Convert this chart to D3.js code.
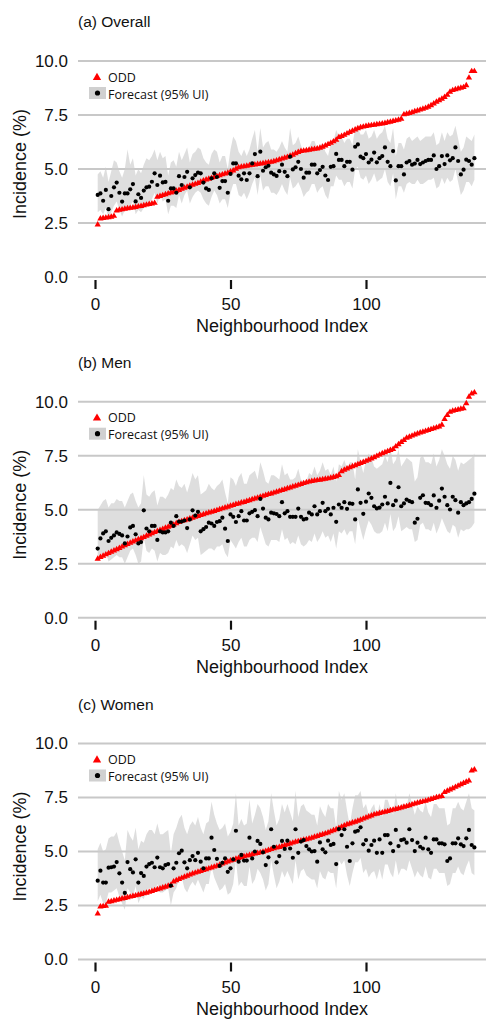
<!DOCTYPE html>
<html>
<head>
<meta charset="utf-8">
<script src="https://cdn.jsdelivr.net/npm/d3@7"></script>
<style>
  body { margin: 0; background: #fff; }
  svg { display: block; }
</style>
</head>
<body>
<div id="chart"></div>
<script>
// neighbourhood index 1..140, values in incidence (%)
var oddA = [2.40,2.68,2.70,2.72,2.74,2.76,2.80,3.05,3.08,3.10,
  3.13,3.15,3.17,3.19,3.21,3.24,3.26,3.29,3.32,3.35,
  3.37,3.40,3.68,3.72,3.76,3.80,3.84,3.88,3.92,3.96,
  4.00,4.05,4.10,4.15,4.20,4.24,4.28,4.32,4.38,4.44,
  4.48,4.52,4.56,4.60,4.64,4.68,4.72,4.76,4.80,4.85,
  4.90,4.98,5.05,5.08,5.10,5.12,5.14,5.16,5.18,5.20,
  5.22,5.24,5.26,5.28,5.30,5.33,5.37,5.41,5.45,5.49,
  5.53,5.58,5.63,5.70,5.76,5.80,5.82,5.84,5.86,5.88,
  5.90,5.92,5.95,6.00,6.06,6.12,6.18,6.25,6.32,6.45,
  6.50,6.55,6.62,6.68,6.74,6.80,6.86,6.90,6.93,6.96,
  6.98,7.00,7.02,7.04,7.06,7.08,7.10,7.13,7.16,7.19,
  7.22,7.25,7.30,7.50,7.53,7.56,7.60,7.64,7.68,7.72,
  7.76,7.80,7.85,7.92,8.00,8.08,8.15,8.22,8.30,8.40,
  8.55,8.62,8.66,8.70,8.73,8.76,8.85,9.20,9.50,9.50];
var fcA = [3.8,3.87,3.53,4.03,3.14,3.75,4.15,4.37,3.9,3.49,
  3.87,3.87,4.06,4.3,3.5,3.83,3.66,4.0,4.15,4.18,
  4.41,4.8,4.26,4.69,4.38,4.4,3.53,4.1,4.1,3.9,
  4.67,4.26,4.63,4.87,4.15,4.57,4.72,4.83,4.8,4.37,
  4.1,4.03,4.57,4.8,4.63,4.13,4.44,4.44,3.9,4.77,
  5.26,5.26,4.69,4.52,4.8,4.49,4.8,5.26,5.69,4.67,
  5.8,4.92,5.08,5.15,4.83,4.75,4.68,4.9,5.2,4.87,
  4.67,5.57,4.98,5.08,5.33,5.0,4.6,4.83,4.83,5.2,
  5.2,4.8,4.95,5.1,4.7,4.49,5.1,5.13,5.7,5.42,
  5.42,5.13,5.33,5.33,4.97,6.03,6.14,5.57,5.5,5.69,
  5.3,5.43,5.76,5.31,5.5,5.6,6.0,5.33,5.13,5.83,
  4.47,5.13,5.13,4.75,5.3,5.37,5.2,5.25,5.42,5.23,
  5.3,5.37,5.42,5.42,5.63,5.0,5.13,5.6,5.23,5.63,
  5.4,5.5,6.0,5.37,4.75,4.97,5.43,5.37,5.2,5.5];
var loA = [3.0,3.1,2.9,3.2,2.7,3.0,3.3,3.5,3.1,2.8,
  3.1,3.1,3.3,3.5,2.9,3.1,3.0,3.2,3.3,3.4,
  3.6,3.9,3.4,3.8,3.5,3.6,2.9,3.3,3.3,3.2,
  3.8,3.4,3.8,4.0,3.4,3.7,3.9,4.0,3.9,3.6,
  3.4,3.3,3.7,4.0,3.8,3.4,3.6,3.6,3.2,3.9,
  4.3,4.3,3.8,3.7,3.9,3.6,3.9,4.3,4.6,3.8,
  4.7,4.0,4.2,4.2,3.9,3.9,3.8,4.0,4.3,4.0,
  3.8,4.6,4.1,4.2,4.4,4.1,3.7,3.9,4.0,4.3,
  4.3,3.9,4.1,4.2,3.8,3.6,4.2,4.2,4.7,4.5,
  4.5,4.2,4.4,4.4,4.1,5.0,5.1,4.6,4.5,4.7,
  4.3,4.5,4.8,4.4,4.5,4.6,5.0,4.4,4.2,4.8,
  3.6,4.2,4.2,3.9,4.3,4.4,4.3,4.3,4.5,4.3,
  4.3,4.4,4.5,4.5,4.6,4.1,4.2,4.6,4.3,4.6,
  4.4,4.5,5.0,4.4,3.8,4.0,4.4,4.4,4.2,4.5];
var hiA = [4.75,4.9,4.6,5.1,4.4,4.9,5.4,5.3,4.9,4.6,
  5.0,5.9,5.2,5.5,4.7,5.0,4.8,5.2,5.5,5.4,
  5.6,5.9,5.4,5.8,5.5,5.6,4.7,5.3,5.4,5.1,
  5.8,5.4,5.7,6.0,5.3,5.7,5.8,6.0,5.9,5.5,
  5.3,5.2,5.7,5.9,5.8,5.3,5.6,5.6,5.0,5.9,
  6.5,6.3,5.8,5.6,5.9,5.6,5.9,6.4,6.8,5.8,
  6.9,6.0,6.2,6.3,5.9,5.9,5.8,6.0,6.3,6.0,
  5.8,6.9,6.1,6.2,6.5,6.1,5.7,5.9,6.0,6.3,
  6.3,5.9,6.1,6.2,5.8,5.6,6.2,6.3,6.8,6.5,
  6.5,6.2,6.4,6.4,6.1,6.9,6.9,6.6,6.6,6.8,
  6.4,6.5,6.8,6.4,6.6,6.7,7.0,6.4,6.2,6.9,
  5.6,6.2,6.2,5.9,6.4,6.5,6.3,6.4,6.5,6.3,
  6.4,6.5,6.5,6.5,6.7,6.1,6.2,6.7,6.3,6.7,
  6.5,6.6,7.0,6.4,5.8,6.0,6.5,6.4,6.3,6.6];

var oddB = [2.70,2.78,2.84,2.90,2.96,3.02,3.08,3.14,3.20,3.26,
  3.32,3.38,3.44,3.50,3.55,3.60,3.65,3.70,3.76,3.82,
  3.88,3.93,3.98,4.03,4.08,4.13,4.18,4.23,4.28,4.34,
  4.40,4.44,4.48,4.52,4.56,4.60,4.64,4.68,4.72,4.76,
  4.80,4.84,4.87,4.91,4.95,4.99,5.03,5.07,5.11,5.15,
  5.19,5.23,5.26,5.30,5.33,5.37,5.41,5.45,5.49,5.53,
  5.57,5.61,5.65,5.69,5.72,5.76,5.80,5.84,5.88,5.92,
  5.96,6.00,6.04,6.08,6.12,6.16,6.20,6.24,6.27,6.30,
  6.32,6.34,6.36,6.38,6.40,6.42,6.45,6.48,6.52,6.58,
  6.75,6.82,6.88,6.93,6.98,7.03,7.08,7.13,7.18,7.23,
  7.28,7.34,7.40,7.46,7.52,7.58,7.63,7.68,7.73,7.78,
  7.90,8.00,8.10,8.20,8.30,8.35,8.40,8.45,8.50,8.54,
  8.58,8.62,8.66,8.70,8.74,8.78,8.82,8.90,9.17,9.35,
  9.50,9.55,9.58,9.61,9.64,9.67,9.90,10.20,10.35,10.40];
var fcB = [3.2,3.67,3.9,4.0,3.55,3.7,3.81,3.95,3.88,3.81,
  3.44,3.76,4.18,4.25,3.86,3.44,3.5,4.97,4.13,4.0,
  4.25,4.25,3.6,4.0,3.95,3.95,4.0,4.4,4.25,4.7,
  4.45,4.45,4.5,4.15,4.55,4.97,4.73,4.9,4.0,4.1,
  4.2,4.4,4.36,4.25,4.43,4.47,4.63,4.12,3.55,4.78,
  4.67,4.43,4.7,4.93,4.5,4.5,4.83,4.9,4.98,4.7,
  5.5,5.05,4.63,4.55,4.86,4.83,4.8,4.7,5.35,4.83,
  4.93,4.67,4.67,4.67,5.05,4.67,4.55,4.58,4.86,4.78,
  5.16,4.78,4.93,5.32,4.93,5.04,4.78,5.09,4.44,5.24,
  5.09,5.35,5.04,5.29,5.27,4.55,5.94,5.32,4.81,5.37,
  5.75,5.55,5.16,5.06,5.1,5.24,5.6,5.29,6.24,5.21,
  5.42,6.04,5.16,5.29,5.47,5.4,5.35,4.4,4.58,5.55,
  5.67,5.32,5.3,5.21,5.66,5.09,5.42,5.98,5.6,5.21,
  5.01,5.6,5.44,4.86,5.35,5.21,5.29,5.35,5.5,5.74];
var loB = [2.6,2.7,2.9,3.0,2.6,2.7,2.8,2.9,2.8,2.8,
  2.5,2.8,3.1,3.2,2.9,2.5,2.6,3.7,3.1,3.0,
  3.2,3.1,2.6,3.0,2.9,2.9,3.0,3.3,3.2,3.6,
  3.3,3.4,3.3,3.0,3.4,3.8,3.6,3.7,2.9,3.0,
  3.1,3.2,3.2,3.1,3.3,3.3,3.4,3.0,2.8,3.6,
  3.4,3.2,3.5,3.7,3.3,3.3,3.6,3.7,3.7,3.5,
  4.2,3.8,3.4,3.3,3.6,3.6,3.6,3.5,4.1,3.6,
  3.7,3.4,3.5,3.4,3.8,3.4,3.3,3.4,3.6,3.5,
  3.9,3.5,3.7,4.0,3.7,3.8,3.5,3.9,3.2,4.0,
  3.9,4.1,3.8,4.0,4.0,3.4,4.6,4.1,3.6,4.1,
  4.5,4.3,4.0,3.9,3.9,4.0,4.4,4.0,4.8,4.0,
  4.2,4.7,4.0,4.1,4.2,4.1,4.1,3.5,3.6,4.3,
  4.4,4.1,4.1,4.0,4.4,3.9,4.2,4.6,4.3,4.0,
  3.9,4.3,4.2,3.7,4.1,4.0,4.1,4.1,4.2,4.4];
var hiB = [5.0,5.2,5.4,5.5,5.1,5.3,5.3,5.5,5.4,5.4,
  5.1,5.4,5.7,5.8,5.4,5.1,5.3,6.6,5.7,5.6,
  5.8,5.9,5.2,5.6,5.6,5.5,5.7,6.0,5.9,6.4,
  6.1,6.0,6.2,5.8,6.2,6.7,6.4,6.6,5.7,5.8,
  5.9,6.2,6.0,5.9,6.1,6.2,6.4,5.8,5.3,6.5,
  6.4,6.1,6.5,6.7,6.2,6.2,6.6,6.7,6.8,6.4,
  7.2,6.8,6.3,6.2,6.6,6.6,6.5,6.4,7.1,6.6,
  6.7,6.4,6.4,6.5,6.9,6.4,6.3,6.3,6.7,6.6,
  7.0,6.6,6.8,7.2,6.8,6.9,6.6,7.0,6.3,7.1,
  7.0,7.3,6.9,7.2,7.2,6.4,7.8,7.2,6.7,7.3,
  7.6,7.4,7.0,6.9,7.0,7.1,7.5,7.2,7.9,7.1,
  7.3,7.8,7.0,7.2,7.4,7.3,7.2,6.3,6.5,7.4,
  7.5,7.2,7.2,7.1,7.6,7.0,7.3,7.8,7.5,7.1,
  6.9,7.5,7.3,6.8,7.2,7.1,7.2,7.3,7.4,7.6];

var oddC = [2.10,2.42,2.44,2.46,2.64,2.67,2.70,2.73,2.76,2.79,
  2.82,2.85,2.88,2.91,2.94,2.97,3.00,3.03,3.06,3.10,
  3.14,3.18,3.22,3.26,3.30,3.34,3.38,3.42,3.58,3.64,
  3.70,3.75,3.80,3.85,3.90,3.95,3.99,4.03,4.07,4.11,
  4.15,4.19,4.23,4.27,4.31,4.36,4.41,4.46,4.51,4.55,
  4.59,4.63,4.67,4.71,4.75,4.78,4.81,4.84,4.87,4.90,
  4.93,4.96,5.00,5.04,5.08,5.12,5.15,5.18,5.22,5.26,
  5.30,5.34,5.38,5.42,5.45,5.48,5.51,5.54,5.57,5.61,
  5.65,5.69,5.73,5.77,5.81,5.85,5.90,5.95,6.00,6.06,
  6.12,6.18,6.23,6.27,6.31,6.35,6.39,6.44,6.49,6.54,
  6.59,6.64,6.69,6.72,6.75,6.78,6.81,6.84,6.88,6.91,
  6.94,6.97,7.00,7.04,7.07,7.11,7.15,7.19,7.23,7.26,
  7.29,7.32,7.36,7.40,7.44,7.48,7.51,7.54,7.72,7.78,
  7.84,7.90,7.96,8.02,8.08,8.14,8.20,8.25,8.72,8.77];
var fcC = [3.65,4.11,3.56,3.56,4.25,4.27,4.3,4.51,3.99,3.56,
  3.08,4.51,4.18,4.03,4.64,3.56,4.0,3.87,4.3,4.42,
  4.48,4.27,4.72,4.27,4.22,4.37,4.42,3.42,4.22,4.48,
  4.92,5.04,4.5,4.22,4.6,4.79,4.6,4.94,4.53,4.22,
  4.68,4.68,5.64,5.07,4.66,4.33,4.48,4.68,4.06,4.22,
  4.64,5.96,4.53,4.84,4.58,4.58,5.64,4.68,5.0,5.49,
  5.35,4.96,4.37,4.73,6.03,5.22,4.5,4.79,5.49,5.12,
  5.5,5.14,4.71,6.03,4.94,5.46,5.53,5.25,5.1,5.0,
  5.02,4.53,5.42,5.1,4.96,5.5,5.3,5.35,4.42,6.04,
  5.76,6.03,5.22,4.56,5.38,5.92,5.96,6.12,5.33,5.53,
  5.04,5.3,5.5,4.94,5.56,4.94,5.76,5.76,5.38,5.02,
  6.0,5.25,5.53,5.56,5.41,6.03,5.53,5.02,5.41,5.22,
  5.14,5.64,5.1,4.94,5.56,5.56,5.38,5.38,5.33,4.56,
  4.68,5.38,5.38,5.61,5.33,5.25,5.61,6.0,5.3,5.19];
var loC = [2.7,3.0,2.6,2.6,3.1,3.1,3.2,3.3,2.9,2.6,
  2.3,3.3,3.1,2.9,3.4,2.6,2.9,2.8,3.2,3.3,
  3.3,3.1,3.5,3.1,3.1,3.2,3.3,2.5,3.1,3.3,
  3.7,3.8,3.3,3.1,3.4,3.6,3.4,3.7,3.4,3.1,
  3.5,3.5,4.3,3.8,3.5,3.2,3.3,3.5,3.0,3.1,
  3.5,4.6,3.4,3.6,3.4,3.4,4.3,3.5,3.7,4.2,
  4.0,3.7,3.2,3.5,4.6,3.9,3.3,3.6,4.1,3.8,
  4.1,3.8,3.5,4.6,3.7,4.1,4.2,3.9,3.8,3.7,
  3.7,3.3,4.1,3.8,3.7,4.1,4.0,4.0,3.3,4.6,
  4.4,4.6,3.9,3.4,4.0,4.5,4.5,4.7,4.0,4.2,
  3.8,4.0,4.1,3.7,4.2,3.7,4.4,4.4,4.0,3.8,
  4.6,3.9,4.2,4.2,4.1,4.6,4.2,3.8,4.1,3.9,
  3.8,4.3,3.8,3.7,4.2,4.2,4.0,4.0,4.0,3.4,
  3.5,4.0,4.0,4.3,4.0,3.9,4.3,4.6,4.0,3.9];
var hiC = [5.1,5.4,5.0,5.1,5.6,5.7,5.7,5.9,5.4,5.0,
  4.6,6.0,5.7,5.5,6.1,5.1,5.5,5.4,5.8,6.0,
  6.0,5.8,6.3,5.8,5.8,5.9,6.0,4.9,5.8,6.1,
  6.5,6.7,6.1,5.8,6.2,6.4,6.2,6.6,6.1,5.8,
  6.3,6.4,7.3,6.7,6.3,6.0,6.1,6.3,5.7,5.9,
  6.3,7.7,6.2,6.5,6.2,6.3,7.4,6.3,6.7,7.2,
  7.0,6.6,6.0,6.4,7.7,6.9,6.2,6.5,7.2,6.8,
  7.2,6.8,6.4,7.8,6.6,7.1,7.2,6.9,6.8,6.7,
  6.7,6.2,7.1,6.8,6.6,7.2,7.0,7.0,6.1,7.8,
  7.4,7.7,6.9,6.2,7.0,7.6,7.6,7.8,7.0,7.2,
  6.7,7.0,7.2,6.6,7.2,6.6,7.4,7.4,7.0,6.7,
  7.7,6.9,7.2,7.2,7.1,7.7,7.2,6.7,7.1,6.9,
  6.8,7.3,6.8,6.6,7.2,7.2,7.0,7.0,7.0,6.2,
  6.3,7.0,7.0,7.3,7.0,6.9,7.3,7.7,7.0,6.9];

var yTicks = [0, 2.5, 5, 7.5, 10];
var xTicks = [0, 50, 100];

var panels = [
  {title: "(a) Overall", top: 0,     odd: oddA, fc: fcA, lo: loA, hi: hiA},
  {title: "(b) Men",     top: 340.7, odd: oddB, fc: fcB, lo: loB, hi: hiB},
  {title: "(c) Women",   top: 682.5, odd: oddC, fc: fcC, lo: loC, hi: hiC}
];

var W = 486, H = 1019;
var axisFont = "Liberation Sans, Arial, sans-serif";
var legFont = "Open Sans, sans-serif";

var svg = d3.select("#chart").append("svg")
    .attr("width", W)
    .attr("height", H);

var x = d3.scaleLinear().domain([0, 100]).range([95, 366]);
var y = d3.scaleLinear().domain([0, 10]).range([277, 61]);

var band = d3.area()
    .x(function(d, i) { return x(i + 1); })
    .y0(function(d) { return y(d[0]); })
    .y1(function(d) { return y(d[1]); });

var tri = d3.symbol().type(d3.symbolTriangle).size(17);

panels.forEach(function(p) {
  var g = svg.append("g").attr("transform", "translate(0," + p.top + ")");

  // grid lines
  g.append("g").selectAll("line")
    .data(yTicks)
    .enter().append("line")
      .attr("x1", 78).attr("x2", W)
      .attr("y1", function(d) { return y(d); })
      .attr("y2", function(d) { return y(d); })
      .attr("stroke", "#c8c8c8")
      .attr("stroke-width", 2);

  // y labels
  var ya = g.append("g")
      .attr("transform", "translate(76,0)")
      .call(d3.axisLeft(y).tickValues(yTicks).tickFormat(d3.format(".1f")).tickSize(0).tickPadding(8));
  ya.select(".domain").remove();
  ya.selectAll("text").attr("font-size", 17).attr("fill", "#111").attr("font-family", axisFont);

  // x axis
  var xa = g.append("g")
      .attr("transform", "translate(0,280)")
      .call(d3.axisBottom(x).tickValues(xTicks).tickSize(9).tickPadding(9));
  xa.select(".domain").remove();
  xa.selectAll("line").attr("stroke", "#111").attr("stroke-width", 2.2);
  xa.selectAll("text").attr("font-size", 17).attr("fill", "#111").attr("font-family", axisFont);

  // uncertainty band
  var pts = p.lo.map(function(v, i) { return [v, p.hi[i]]; });
  g.append("path")
    .datum(pts)
    .attr("d", band)
    .attr("fill", "#cccccc")
    .attr("fill-opacity", 0.65);

  // ODD triangles
  g.append("g").selectAll("path")
    .data(p.odd)
    .enter().append("path")
      .attr("d", tri)
      .attr("transform", function(d, i) { return "translate(" + x(i + 1) + "," + (y(d) - 0.5) + ")"; })
      .attr("fill", "#ff0000");

  // forecast points
  g.append("g").selectAll("circle")
    .data(p.fc)
    .enter().append("circle")
      .attr("cx", function(d, i) { return x(i + 1); })
      .attr("cy", function(d) { return y(d); })
      .attr("r", 2.1)
      .attr("fill", "#000");

  // titles
  g.append("text")
    .attr("x", 78).attr("y", 27)
    .attr("font-family", axisFont).attr("font-size", 15.5).attr("fill", "#111")
    .text(p.title);

  g.append("text")
    .attr("x", (78 + W) / 2).attr("y", 332)
    .attr("text-anchor", "middle")
    .attr("font-family", axisFont).attr("font-size", 18).attr("fill", "#111")
    .text("Neighbourhood Index");

  g.append("text")
    .attr("transform", "translate(26,164) rotate(-90)")
    .attr("text-anchor", "middle")
    .attr("font-family", axisFont).attr("font-size", 18).attr("fill", "#111")
    .text("Incidence (%)");

  // legend
  var lg = g.append("g");
  lg.append("path")
    .attr("d", d3.symbol().type(d3.symbolTriangle).size(30))
    .attr("transform", "translate(97,77.5)")
    .attr("fill", "#ff0000");
  lg.append("text")
    .attr("x", 108).attr("y", 81.5)
    .attr("font-family", legFont).attr("font-size", 12.5).attr("fill", "#111")
    .text("ODD");
  lg.append("rect")
    .attr("x", 89).attr("y", 87).attr("width", 17).attr("height", 12)
    .attr("fill", "#d0d0d0");
  lg.append("circle")
    .attr("cx", 97.5).attr("cy", 93).attr("r", 2.6)
    .attr("fill", "#000");
  lg.append("text")
    .attr("x", 108).attr("y", 98.5)
    .attr("font-family", legFont).attr("font-size", 12.5).attr("fill", "#111")
    .text("Forecast (95% UI)");
});
</script>
</body>
</html>
